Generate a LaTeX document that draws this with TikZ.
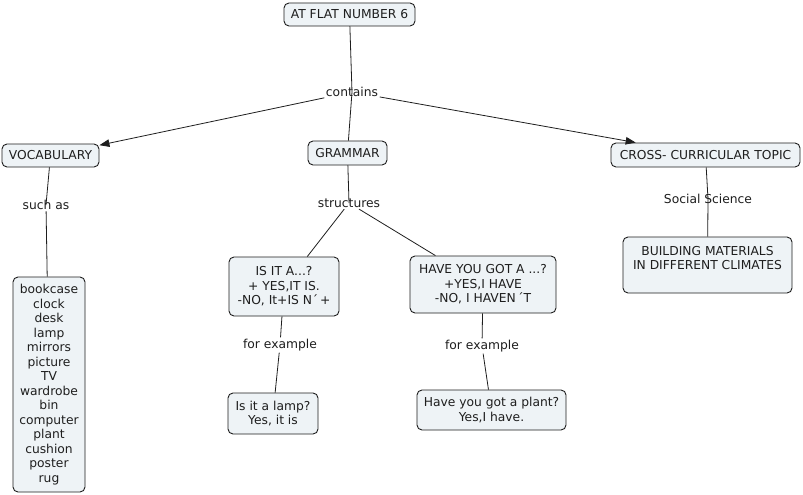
\documentclass[tikz,border=0pt]{standalone}
\usepackage{fontspec}
\setmainfont{DejaVu Sans}
\usetikzlibrary{arrows.meta}
\definecolor{boxfill}{HTML}{EEF3F6}
\definecolor{ink}{HTML}{1E1E1E}
\tikzset{
  cbox/.style={draw=ink, line width=0.9pt, fill=boxfill, rounded corners=5pt,
    align=center, inner sep=2pt, text=ink,
    font=\fontsize{12.3}{14.5}\selectfont},
  lbl/.style={inner sep=1.5pt, text=ink, font=\fontsize{12.3}{14.5}\selectfont},
  link/.style={draw=ink, line width=0.8pt},
  arr/.style={link, -{Triangle[length=10pt,width=7.5pt]}}
}
\begin{document}
\begin{tikzpicture}[x=1pt,y=-1pt]
\useasboundingbox (0,0) rectangle (803,495);
\fill[white] (0,0) rectangle (803,495);
% nodes
\node[cbox, minimum width=131pt, minimum height=23pt] (top) at (349.5,14.5) {AT FLAT NUMBER 6};
\node[lbl] (contains) at (352,92) {contains};
\node[cbox, minimum width=97pt, minimum height=23pt] (vocab) at (50.5,155.5) {VOCABULARY};
\node[cbox, minimum width=79pt, minimum height=24pt] (grammar) at (347.5,153) {GRAMMAR};
\node[cbox, minimum width=189pt, minimum height=24pt] (cross) at (705.5,155) {CROSS- CURRICULAR TOPIC};
\node[lbl] (suchas) at (46,205) {such as};
\node[lbl] (structures) at (349,203) {structures};
\node[lbl] (social) at (708,199) {Social Science};
\node[cbox, minimum width=72pt, minimum height=215pt] (list) at (49,384.5)
  {bookcase\\clock\\desk\\lamp\\mirrors\\picture\\TV\\wardrobe\\bin\\computer\\plant\\cushion\\poster\\rug};
\node[cbox, minimum width=110pt, minimum height=59pt] (isit) at (284,286.5)
  {IS IT A...?\\+ YES,IT IS.\\-NO, It+IS N\,\'{}\,+};
\node[cbox, minimum width=146pt, minimum height=57pt] (have) at (483,284.5)
  {HAVE YOU GOT A ...?\\+YES,I HAVE\\-NO, I HAVEN \'{}T};
\node[cbox, minimum width=169pt, minimum height=56pt] (build) at (707.5,265)
  {BUILDING MATERIALS\\IN DIFFERENT CLIMATES\\\mbox{}};
\node[lbl] (forex1) at (280,345) {for example};
\node[lbl] (forex2) at (482,346) {for example};
\node[cbox, minimum width=90pt, minimum height=41pt] (lamp) at (273,413.5)
  {Is it a lamp?\\Yes, it is};
\node[cbox, minimum width=149pt, minimum height=40pt] (plant) at (491.5,410)
  {Have you got a plant?\\Yes,I have.};
% connectors
\path[link] (top) -- (contains.center);
\path[link] (contains.center) -- (grammar);
\path[arr] (contains) -- (vocab);
\path[arr] (contains) -- (cross);
\path[link] (vocab) -- (suchas.center);
\path[link] (suchas) -- (list);
\path[link] (grammar) -- (structures.center);
\path[link] (structures) -- (isit);
\path[link] (structures) -- (have);
\path[link] (cross) -- (social.center);
\path[link] (social.center) -- (build);
\path[link] (isit) -- (forex1);
\path[link] (forex1) -- (lamp);
\path[link] (have) -- (forex2);
\path[link] (forex2) -- (plant);
\end{tikzpicture}
\end{document}
